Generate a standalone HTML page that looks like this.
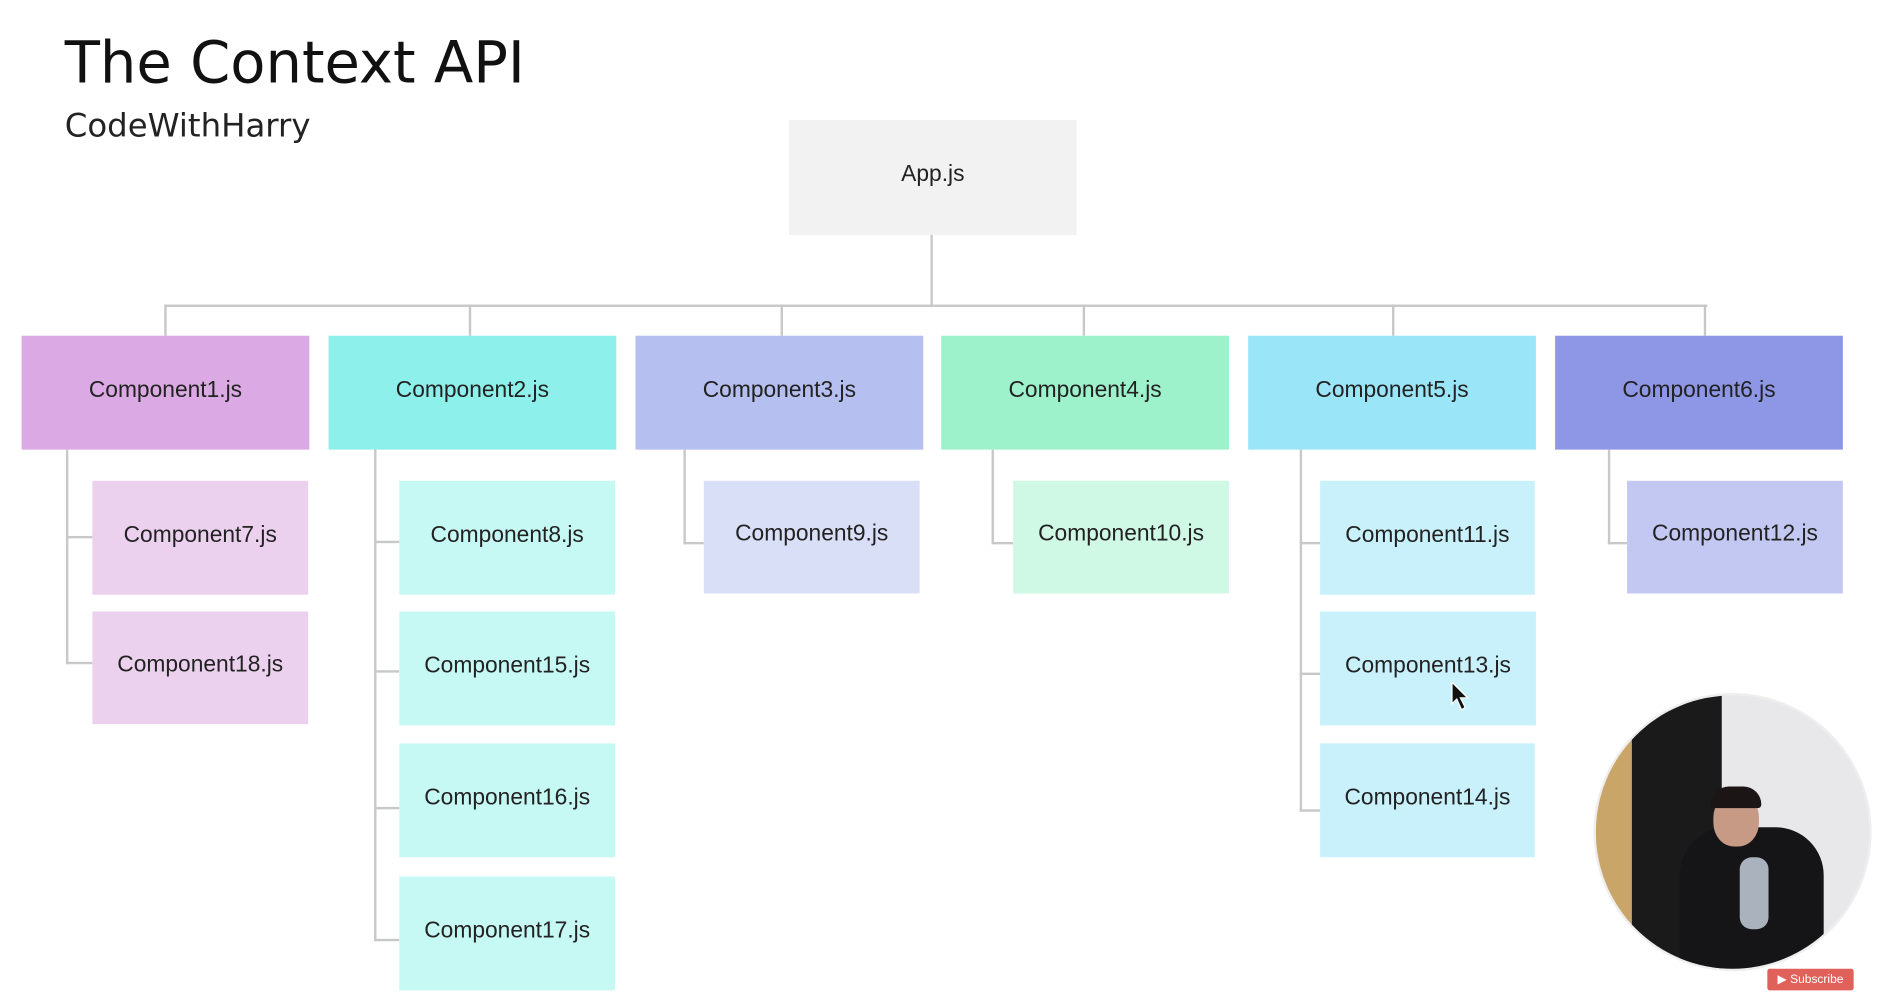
<!DOCTYPE html>
<html><head><meta charset="utf-8"><style>
html,body{margin:0;padding:0;background:#fff;width:1880px;height:1007px;overflow:hidden}
#w{position:absolute;left:0;top:0;width:1568px;height:840px;transform:scale(1.199);transform-origin:0 0;font-family:"Liberation Sans","DejaVu Sans",sans-serif}
.b{position:absolute;display:flex;align-items:center;justify-content:center;font-size:19px;color:#222;padding-bottom:4px;box-sizing:border-box}
.l{position:absolute;background:#c8c8c8}
</style></head><body><div id="w">
<div style="position:absolute;left:54px;top:25px;font-size:48px;color:#111;font-family:'DejaVu Sans',sans-serif">The Context API</div>
<div style="position:absolute;left:54px;top:90px;font-size:27px;color:#222;font-family:'DejaVu Sans',sans-serif">CodeWithHarry</div>

<div class="b" style="left:658px;top:100px;width:240px;height:96px;background:#f2f2f2">App.js</div>
<div class="l" style="left:776px;top:196px;width:2px;height:60px"></div>
<div class="l" style="left:138px;top:254px;width:1286px;height:2px"></div>
<div class="l" style="left:137px;top:254px;width:2px;height:26px"></div>
<div class="l" style="left:391px;top:254px;width:2px;height:26px"></div>
<div class="l" style="left:651px;top:254px;width:2px;height:26px"></div>
<div class="l" style="left:903px;top:254px;width:2px;height:26px"></div>
<div class="l" style="left:1161px;top:254px;width:2px;height:26px"></div>
<div class="l" style="left:1421px;top:254px;width:2px;height:26px"></div>

<div class="b" style="left:18px;top:280px;width:240px;height:95px;background:#dba9e3">Component1.js</div>
<div class="b" style="left:274px;top:280px;width:240px;height:95px;background:#8ef0ea">Component2.js</div>
<div class="b" style="left:530px;top:280px;width:240px;height:95px;background:#b5bff0">Component3.js</div>
<div class="b" style="left:785px;top:280px;width:240px;height:95px;background:#9df2cc">Component4.js</div>
<div class="b" style="left:1041px;top:280px;width:240px;height:95px;background:#9be5f8">Component5.js</div>
<div class="b" style="left:1297px;top:280px;width:240px;height:95px;background:#8e97e6">Component6.js</div>

<div class="l" style="left:55px;top:375px;width:2px;height:179px"></div>
<div class="l" style="left:55px;top:447px;width:22px;height:2px"></div>
<div class="l" style="left:55px;top:552px;width:22px;height:2px"></div>
<div class="b" style="left:77px;top:401px;width:180px;height:95px;background:#ecd1ee">Component7.js</div>
<div class="b" style="left:77px;top:510px;width:180px;height:94px;background:#ecd1ee">Component18.js</div>

<div class="l" style="left:312px;top:375px;width:2px;height:410px"></div>
<div class="l" style="left:312px;top:451px;width:21px;height:2px"></div>
<div class="l" style="left:312px;top:559px;width:21px;height:2px"></div>
<div class="l" style="left:312px;top:673px;width:21px;height:2px"></div>
<div class="l" style="left:312px;top:783px;width:21px;height:2px"></div>
<div class="b" style="left:333px;top:401px;width:180px;height:95px;background:#c6f8f4">Component8.js</div>
<div class="b" style="left:333px;top:510px;width:180px;height:95px;background:#c6f8f4">Component15.js</div>
<div class="b" style="left:333px;top:620px;width:180px;height:95px;background:#c6f8f4">Component16.js</div>
<div class="b" style="left:333px;top:731px;width:180px;height:95px;background:#c6f8f4">Component17.js</div>

<div class="l" style="left:570px;top:375px;width:2px;height:79px"></div>
<div class="l" style="left:570px;top:452px;width:17px;height:2px"></div>
<div class="b" style="left:587px;top:401px;width:180px;height:94px;background:#dadff8">Component9.js</div>

<div class="l" style="left:827px;top:375px;width:2px;height:79px"></div>
<div class="l" style="left:827px;top:452px;width:18px;height:2px"></div>
<div class="b" style="left:845px;top:401px;width:180px;height:94px;background:#cff8e5">Component10.js</div>

<div class="l" style="left:1084px;top:375px;width:2px;height:302px"></div>
<div class="l" style="left:1084px;top:452px;width:17px;height:2px"></div>
<div class="l" style="left:1084px;top:561px;width:17px;height:2px"></div>
<div class="l" style="left:1084px;top:675px;width:17px;height:2px"></div>
<div class="b" style="left:1101px;top:401px;width:179px;height:95px;background:#c8f1fb">Component11.js</div>
<div class="b" style="left:1101px;top:510px;width:180px;height:95px;background:#c8f1fb">Component13.js</div>
<div class="b" style="left:1101px;top:620px;width:179px;height:95px;background:#c8f1fb">Component14.js</div>

<div class="l" style="left:1341px;top:375px;width:2px;height:79px"></div>
<div class="l" style="left:1341px;top:452px;width:16px;height:2px"></div>
<div class="b" style="left:1357px;top:401px;width:180px;height:94px;background:#c3c8f3">Component12.js</div>

<svg style="position:absolute;left:1210px;top:568px" width="16" height="26"><path d="M1 1 L1 19 L5 15 L9 24 L12 22 L8 14 L14 14 Z" fill="#111" stroke="#fff" stroke-width="1"/></svg>

<div style="position:absolute;left:1329px;top:578px;width:228px;height:228px;border-radius:50%;overflow:hidden;background:#e8e8ea;border:2px solid #eee">
  <div style="position:absolute;left:0;top:0;width:30px;height:228px;background:#c9a56a"></div>
  <div style="position:absolute;left:30px;top:0;width:75px;height:228px;background:#1a1a1a"></div>
  <div style="position:absolute;left:70px;top:110px;width:120px;height:130px;background:#151518;border-radius:40px 40px 0 0"></div>
  <div style="position:absolute;left:98px;top:82px;width:38px;height:44px;background:#c79a86;border-radius:45%"></div>
  <div style="position:absolute;left:96px;top:76px;width:42px;height:18px;background:#1b1515;border-radius:20px 20px 4px 4px"></div>
  <div style="position:absolute;left:120px;top:135px;width:24px;height:60px;background:#aab3bd;border-radius:10px"></div>
</div>
<div style="position:absolute;left:1474px;top:808px;width:72px;height:18px;background:#e0605a;border-radius:2px;color:#fff;font-size:10px;display:flex;align-items:center;justify-content:center">&#9654;&nbsp;Subscribe</div>
</div></body></html>
